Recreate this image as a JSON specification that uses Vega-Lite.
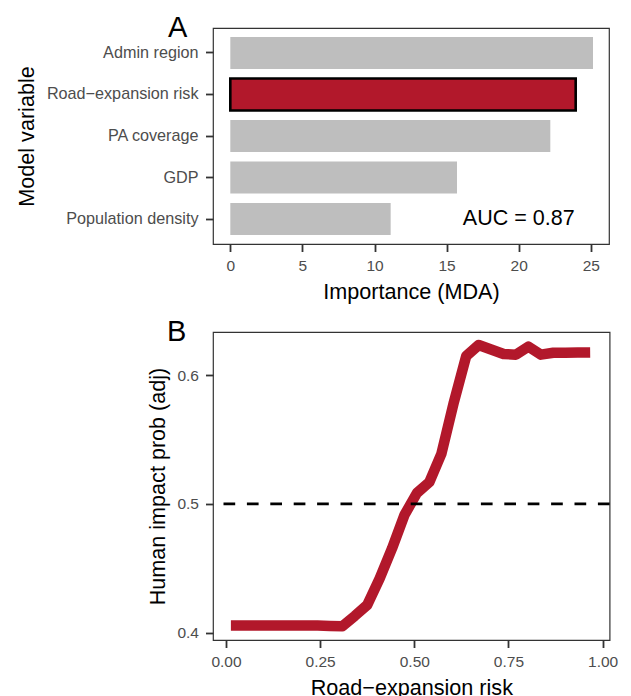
{
  "$schema": "https://vega.github.io/schema/vega-lite/v6.json",
  "padding": {"left": 16, "top": 13, "right": 5, "bottom": 0},
  "background": "white",
  "bounds": "flush",
  "spacing": 88,
  "config": {
    "font": "Liberation Sans",
    "view": {"stroke": "#333333", "strokeWidth": 1.2},
    "axis": {
      "grid": false,
      "domain": false,
      "tickColor": "#333333",
      "tickWidth": 1.8,
      "tickSize": 7.5,
      "labelColor": "#4D4D4D",
      "labelFont": "Liberation Sans",
      "titleFont": "Liberation Sans",
      "titleColor": "black",
      "titleFontWeight": "normal",
      "titleFontSize": 21.6,
      "labelPadding": 7,
      "titlePadding": 7.4
    }
  },
  "vconcat": [
    {
      "width": 396,
      "height": 216,
      "title": {"text": "A", "anchor": "start", "frame": "group", "fontSize": 29, "fontWeight": "normal", "color": "black", "font": "Liberation Sans", "dx": -45, "dy": 30, "baseline": "alphabetic", "offset": -8},
      "layer": [
        {
          "data": {"values": [
            {"variable": "Admin region", "importance": 25.15},
            {"variable": "Road−expansion risk", "importance": 23.95},
            {"variable": "PA coverage", "importance": 22.19},
            {"variable": "GDP", "importance": 15.72},
            {"variable": "Population density", "importance": 11.12}
          ]},
          "mark": {"type": "bar", "stroke": "black"},
          "encoding": {
            "y": {"field": "variable", "type": "nominal",
                  "scale": {"domain": ["Admin region", "Road−expansion risk", "PA coverage", "GDP", "Population density"], "paddingInner": 0.23, "paddingOuter": 0.215},
                  "axis": {"title": "Model variable", "labelFontSize": 16.2, "labelPadding": 7.5}},
            "x": {"field": "importance", "type": "quantitative",
                  "scale": {"domain": [-1.2, 26.26], "nice": false},
                  "axis": {"title": "Importance (MDA)", "values": [0, 5, 10, 15, 20, 25], "labelFontSize": 15.5}},
            "fill": {"condition": {"test": "datum.variable === 'Road−expansion risk'", "value": "#B2182B"}, "value": "#BEBEBE"},
            "strokeWidth": {"condition": {"test": "datum.variable === 'Road−expansion risk'", "value": 2.6}, "value": 0}
          }
        },
        {
          "data": {"values": [{"label": "AUC = 0.87"}]},
          "mark": {"type": "text", "fontSize": 21.5, "color": "black", "align": "center", "baseline": "middle", "font": "Liberation Sans"},
          "encoding": {
            "x": {"datum": 20, "type": "quantitative"},
            "y": {"datum": "Population density", "type": "nominal"},
            "text": {"field": "label"}
          }
        }
      ]
    },
    {
      "width": 396.6,
      "height": 308,
      "title": {"text": "B", "anchor": "start", "frame": "group", "fontSize": 29, "fontWeight": "normal", "color": "black", "font": "Liberation Sans", "dx": -46, "dy": 30, "baseline": "alphabetic", "offset": -8},
      "layer": [
        {
          "data": {"values": [
            {"risk": 0.013, "prob": 0.4056},
            {"risk": 0.046, "prob": 0.4056},
            {"risk": 0.079, "prob": 0.4056},
            {"risk": 0.112, "prob": 0.4056},
            {"risk": 0.145, "prob": 0.4056},
            {"risk": 0.178, "prob": 0.4056},
            {"risk": 0.211, "prob": 0.4056},
            {"risk": 0.243, "prob": 0.4055},
            {"risk": 0.276, "prob": 0.4052},
            {"risk": 0.309, "prob": 0.4050},
            {"risk": 0.342, "prob": 0.4130},
            {"risk": 0.375, "prob": 0.4215},
            {"risk": 0.408, "prob": 0.4420},
            {"risk": 0.441, "prob": 0.4655},
            {"risk": 0.474, "prob": 0.4915},
            {"risk": 0.507, "prob": 0.5085},
            {"risk": 0.540, "prob": 0.5170},
            {"risk": 0.572, "prob": 0.5390},
            {"risk": 0.605, "prob": 0.5790},
            {"risk": 0.638, "prob": 0.6150},
            {"risk": 0.671, "prob": 0.6235},
            {"risk": 0.704, "prob": 0.6200},
            {"risk": 0.737, "prob": 0.6165},
            {"risk": 0.770, "prob": 0.6160},
            {"risk": 0.803, "prob": 0.6222},
            {"risk": 0.836, "prob": 0.6160},
            {"risk": 0.869, "prob": 0.6175},
            {"risk": 0.901, "prob": 0.6175},
            {"risk": 0.934, "prob": 0.6176},
            {"risk": 0.967, "prob": 0.6177}
          ]},
          "mark": {"type": "line", "color": "#B2182B", "strokeWidth": 10.5, "strokeCap": "butt", "strokeJoin": "round"},
          "encoding": {
            "x": {"field": "risk", "type": "quantitative",
                  "scale": {"domain": [-0.0345, 1.0186], "nice": false, "zero": false},
                  "axis": {"title": "Road−expansion risk", "values": [0, 0.25, 0.5, 0.75, 1], "format": ".2f", "labelFontSize": 15.5}},
            "y": {"field": "prob", "type": "quantitative",
                  "scale": {"domain": [0.3943, 0.6336], "nice": false, "zero": false},
                  "axis": {"title": "Human impact prob (adj)", "values": [0.4, 0.5, 0.6], "format": ".1f", "labelFontSize": 15.5}}
          }
        },
        {
          "data": {"values": [{"ref": 0.5}]},
          "mark": {"type": "rule", "strokeDash": [11.7, 11.7], "strokeWidth": 2.8, "color": "black"},
          "encoding": {"y": {"field": "ref", "type": "quantitative"}}
        }
      ]
    }
  ]
}
